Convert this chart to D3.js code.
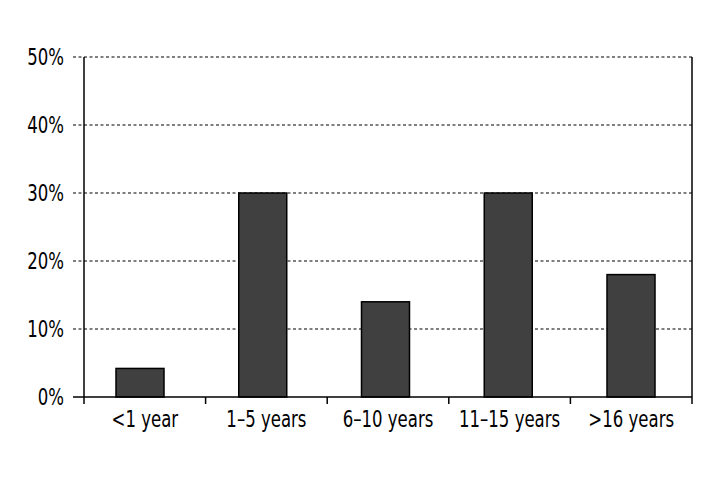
<!DOCTYPE html>
<html>
<head>
<meta charset="utf-8">
<script src="https://cdn.jsdelivr.net/npm/d3@7"></script>
<style>
  body { margin: 0; background: #fff; }
  text { font-family: "Liberation Sans Narrow", "DejaVu Sans Condensed", sans-serif; font-size: 23px; fill: #000; }
</style>
</head>
<body>
<svg id="chart" width="720" height="480"></svg>
<script>
var categories = ["<1 year", "1\u20135 years", "6\u201310 years", "11\u201315 years", ">16 years"];
var values = [4.2, 30, 14, 30, 18];
var yTicks = [0, 10, 20, 30, 40, 50];

var svg = d3.select("#chart"),
    plotLeft = 84, plotRight = 692, plotTop = 57, plotBottom = 397,
    squeeze = 0.8; // narrow the font to look condensed

var y = d3.scaleLinear().domain([0, 50]).range([plotBottom, plotTop]);

// category slots for the axis ticks
var xAxisScale = d3.scaleBand().domain(categories).range([plotLeft, plotRight]);

// bars sit slightly left in their slots
var xBar = d3.scaleBand().domain(categories)
    .range([plotLeft, 687])
    .paddingInner(0.609)
    .paddingOuter(0.2607);

// dashed grid lines (with small outside ticks)
svg.append("g").selectAll("line")
    .data(yTicks.filter(function(d) { return d > 0; }))
    .enter().append("line")
    .attr("x1", 73).attr("x2", plotRight)
    .attr("y1", function(d) { return y(d); })
    .attr("y2", function(d) { return y(d); })
    .attr("stroke", "#000")
    .attr("stroke-width", 1.2)
    .attr("stroke-dasharray", "3,2.5");

// y labels
svg.append("g").selectAll("text")
    .data(yTicks)
    .enter().append("text")
    .attr("transform", function(d) { return "translate(64," + y(d) + ") scale(" + squeeze + ",1)"; })
    .attr("dy", "0.36em")
    .attr("text-anchor", "end")
    .text(function(d) { return d + "%"; });

// bars
svg.append("g").selectAll("rect")
    .data(values)
    .enter().append("rect")
    .attr("x", function(d, i) { return xBar(categories[i]); })
    .attr("width", xBar.bandwidth())
    .attr("y", function(d) { return y(d); })
    .attr("height", function(d) { return y(0) - y(d); })
    .attr("fill", "#404040")
    .attr("stroke", "#000")
    .attr("stroke-width", 1.5);

// frame: left axis, right border
svg.append("line").attr("x1", plotLeft).attr("x2", plotLeft).attr("y1", plotTop).attr("y2", plotBottom)
    .attr("stroke", "#000").attr("stroke-width", 1.5);
svg.append("line").attr("x1", plotRight).attr("x2", plotRight).attr("y1", plotTop).attr("y2", plotBottom)
    .attr("stroke", "#000").attr("stroke-width", 1.5);

var xAxis = d3.axisBottom(xAxisScale).tickSize(0).tickSizeOuter(0);
var gx = svg.append("g").attr("transform", "translate(0," + plotBottom + ")").call(xAxis);
gx.select(".domain").remove();
gx.attr("font-size", null).attr("font-family", null);
gx.selectAll("text")
    .attr("y", null).attr("dy", null)
    .attr("transform", "translate(0,30) scale(" + squeeze + ",1)");

svg.append("line").attr("x1", 73).attr("x2", plotRight).attr("y1", plotBottom).attr("y2", plotBottom)
    .attr("stroke", "#000").attr("stroke-width", 1.5);

// boundary ticks between categories
var bounds = categories.map(function(c) { return xAxisScale(c); }).concat([plotRight]);
svg.append("g").selectAll("line")
    .data(bounds)
    .enter().append("line")
    .attr("x1", function(d) { return d; }).attr("x2", function(d) { return d; })
    .attr("y1", plotBottom).attr("y2", plotBottom + 7)
    .attr("stroke", "#000").attr("stroke-width", 1.5);
</script>
</body>
</html>
